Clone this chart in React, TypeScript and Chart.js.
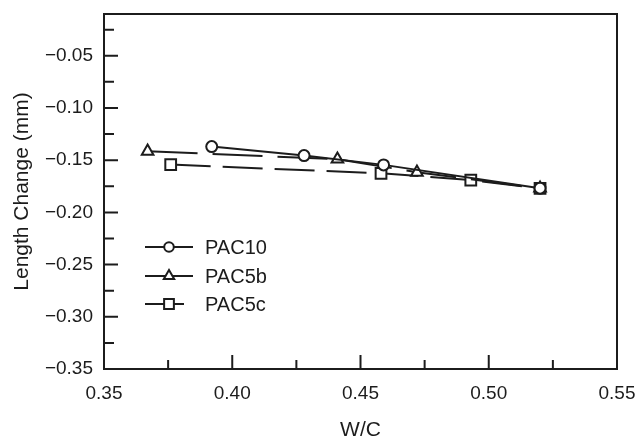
import React, { useEffect, useRef } from "react";
import { Chart, registerables } from "chart.js";
import { drawPoint } from "chart.js/helpers";

Chart.register(...registerables);

// ---- data ----
const seriesNames = ["PAC10", "PAC5b", "PAC5c"];
const pac10X = [0.392, 0.428, 0.459, 0.52];
const pac10Y = [-0.137, -0.1456, -0.1545, -0.1768];
const pac5bX = [0.367, 0.441, 0.472, 0.52];
const pac5bY = [-0.1415, -0.149, -0.1616, -0.1768];
const pac5cX = [0.376, 0.458, 0.493, 0.52];
const pac5cY = [-0.1542, -0.1626, -0.169, -0.177];

const xMajorTicks = [0.35, 0.4, 0.45, 0.5, 0.55];
const xMinorTicks = [0.375, 0.425, 0.475, 0.525];
const yMajorTicks = [-0.35, -0.3, -0.25, -0.2, -0.15, -0.1, -0.05];
const yMinorTicks = [-0.325, -0.275, -0.225, -0.175, -0.125, -0.075, -0.025];

const INK = "#1c1c1c";
const FONT = "'Liberation Sans', Arial, Helvetica, sans-serif";

const toPts = (xs: number[], ys: number[]) => xs.map((x, i) => ({ x, y: ys[i] }));
const fmt = (v: any) => Number(v).toFixed(2).replace("-", "\u2212");

const styles = [
  { pointStyle: "circle", radius: 5.5, dash: [] as number[], legendRight: 24 },
  { pointStyle: "triangle", radius: 6.7, dash: [50, 15], legendRight: 24 },
  { pointStyle: "rect", radius: 7.6, dash: [40, 12], legendRight: 15 },
];

const framePlugin = {
  id: "frameTicks",
  beforeDatasetsDraw(chart: any) {
    const { ctx, chartArea: a, scales } = chart;
    const x = scales.x;
    const y = scales.y;
    ctx.save();
    ctx.strokeStyle = INK;
    ctx.lineWidth = 2;
    ctx.beginPath();
    ctx.rect(a.left, a.top, a.right - a.left, a.bottom - a.top);
    ctx.stroke();
    ctx.beginPath();
    xMajorTicks.forEach((v) => {
      const px = x.getPixelForValue(v);
      ctx.moveTo(px, a.bottom);
      ctx.lineTo(px, a.bottom - 14);
    });
    xMinorTicks.forEach((v) => {
      const px = x.getPixelForValue(v);
      ctx.moveTo(px, a.bottom);
      ctx.lineTo(px, a.bottom - 9);
    });
    yMajorTicks.forEach((v) => {
      const py = y.getPixelForValue(v);
      ctx.moveTo(a.left, py);
      ctx.lineTo(a.left + 14, py);
    });
    yMinorTicks.forEach((v) => {
      const py = y.getPixelForValue(v);
      ctx.moveTo(a.left, py);
      ctx.lineTo(a.left + 10, py);
    });
    ctx.stroke();
    ctx.restore();
  },
  afterDatasetsDraw(chart: any) {
    const { ctx } = chart;
    const lx = 145;
    const mx = 169;
    const tx = 205;
    const rows = [247, 276, 304];
    ctx.save();
    seriesNames.forEach((name, i) => {
      const st = styles[i];
      const yy = rows[i];
      ctx.strokeStyle = INK;
      ctx.lineWidth = 2;
      ctx.setLineDash([]);
      ctx.beginPath();
      ctx.moveTo(lx, yy);
      ctx.lineTo(mx + st.legendRight, yy);
      ctx.stroke();
      ctx.fillStyle = "#ffffff";
      ctx.strokeStyle = INK;
      ctx.lineWidth = 2;
      drawPoint(ctx, { pointStyle: st.pointStyle, radius: st.radius - 0.7, rotation: 0, borderWidth: 2 } as any, mx, yy);
      ctx.fillStyle = INK;
      ctx.font = `20px ${FONT}`;
      ctx.textBaseline = "middle";
      ctx.textAlign = "left";
      ctx.fillText(name, tx, yy + 1);
    });
    ctx.restore();
  },
};

export default function App() {
  const ref = useRef<HTMLCanvasElement | null>(null);
  useEffect(() => {
    document.body.style.margin = "0";
    const canvas = ref.current;
    if (!canvas) return;
    const allX = [pac10X, pac5bX, pac5cX];
    const allY = [pac10Y, pac5bY, pac5cY];
    const chart = new Chart(canvas, {
      type: "line",
      data: {
        datasets: seriesNames.map((name, i) => ({
          label: name,
          data: toPts(allX[i], allY[i]),
          borderColor: INK,
          borderWidth: 2,
          borderDash: styles[i].dash,
          backgroundColor: "#ffffff",
          pointBackgroundColor: "#ffffff",
          pointBorderColor: INK,
          pointBorderWidth: 2,
          pointStyle: styles[i].pointStyle as any,
          pointRadius: styles[i].radius,
          tension: 0,
          fill: false,
        })),
      },
      options: {
        animation: false,
        responsive: false,
        devicePixelRatio: 1,
        layout: { padding: { left: 0, top: 14, right: 22, bottom: 0 } },
        plugins: { legend: { display: false }, tooltip: { enabled: false } },
        scales: {
          x: {
            type: "linear",
            min: 0.35,
            max: 0.55,
            grid: { display: false, drawTicks: false },
            border: { display: false },
            ticks: {
              padding: 13,
              color: INK,
              font: { family: FONT, size: 19 },
              callback: fmt,
            },
            afterBuildTicks: (s: any) => {
              s.ticks = xMajorTicks.map((v) => ({ value: v }));
            },
            afterFit: (s: any) => {
              s.height = 70;
              s.paddingLeft = 0;
              s.paddingRight = 0;
            },
            title: {
              display: true,
              text: "W/C",
              color: INK,
              font: { family: FONT, size: 21, lineHeight: 1 },
              padding: { top: 0, bottom: -2 },
            },
          },
          y: {
            type: "linear",
            min: -0.35,
            max: -0.01,
            grid: { display: false, drawTicks: false },
            border: { display: false },
            ticks: {
              padding: 11,
              color: INK,
              font: { family: FONT, size: 19 },
              callback: fmt,
            },
            afterBuildTicks: (s: any) => {
              s.ticks = yMajorTicks.map((v) => ({ value: v }));
            },
            afterFit: (s: any) => {
              s.width = 104;
              s.paddingTop = 0;
              s.paddingBottom = 0;
            },
            title: {
              display: true,
              text: "Length Change (mm)",
              color: INK,
              font: { family: FONT, size: 21, lineHeight: 1 },
              padding: { top: 11.5, bottom: 0 },
            },
          },
        },
      },
      plugins: [framePlugin],
    });
    return () => chart.destroy();
  }, []);
  return (
    <div style={{ position: "absolute", left: 0, top: 0, width: 639, height: 439, background: "#fff" }}>
      <canvas ref={ref} width={639} height={439} style={{ width: 639, height: 439, display: "block" }} />
    </div>
  );
}
